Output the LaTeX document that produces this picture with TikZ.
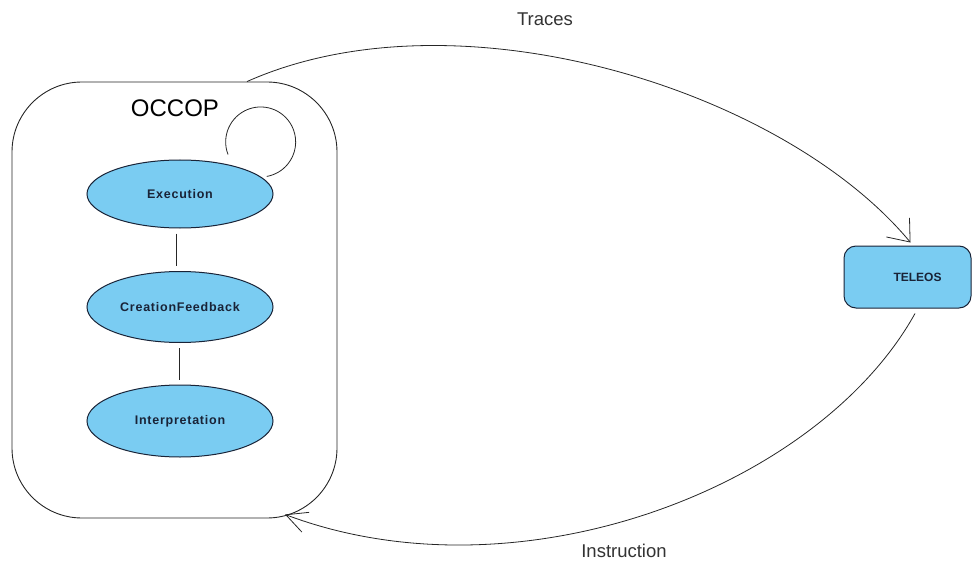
\documentclass[tikz,border=0pt]{standalone}
\usepackage{fontspec}
\setmainfont{Liberation Sans}
\newfontfamily\statefont[LetterSpace=6]{Liberation Sans}
\usetikzlibrary{shapes.geometric,arrows.meta,calc}
\definecolor{fillblue}{RGB}{122,204,242}
\definecolor{edgenavy}{RGB}{25,35,55}
\tikzset{
  statebox/.style={ellipse, draw=edgenavy, line width=1pt, fill=fillblue, inner sep=0pt,
    minimum width=186pt, font=\statefont\fontsize{12.5}{14}\selectfont\bfseries, text=edgenavy},
  groupbox/.style={draw=black!85, line width=0.9pt, rounded corners=70pt, minimum width=325pt, minimum height=436pt},
  actorbox/.style={draw=edgenavy, line width=1pt, fill=fillblue, rounded corners=12pt, minimum width=127pt, minimum height=62pt, inner sep=0pt},
  link/.style={draw=black!85, line width=0.8pt},
  flow/.style={link, -{Straight Barb[length=19pt,width=30pt]}},
  flowb/.style={link, -{Straight Barb[length=21pt,width=21pt]}},
  flowlabel/.style={font=\fontsize{18.5}{20}\selectfont, text=black!80, inner sep=0pt}
}
\begin{document}
\begin{tikzpicture}[x=1pt,y=1pt]
\useasboundingbox (0,0) rectangle (973,563);
% OCCOP container
\node[groupbox] (occop) at (174.5,263) {};
\node[font=\fontsize{24}{26}\selectfont, inner sep=0pt] (title) at (175,455) {OCCOP};
% states
\node[statebox, minimum height=68pt] (ex) at (180,369) {Execution};
\node[statebox, minimum height=71pt] (cf) at (180,256) {CreationFeedback};
\node[statebox, minimum height=72pt] (ip) at (180,142) {Interpretation};
\draw[link] ([xshift=-4pt]ex.south) ++(0,-5) coordinate (l1a) -- ($([xshift=-4pt]cf.north)+(0,5)$) coordinate (l1b);
\draw[link] ([xshift=-1pt]cf.south) ++(0,-5) coordinate (l2a) -- ($([xshift=-1pt]ip.north)+(0,5)$) coordinate (l2b);
% self loop
\draw[link] ([shift={(48pt,5pt)}]ex.north) arc[start angle=201, end angle=-80, radius=35pt];
% TELEOS
\node[actorbox, label={[xshift=10pt, font=\fontsize{12}{14}\selectfont\bfseries, text=edgenavy]center:TELEOS}] (tel) at (907.5,286) {};
% flows
\draw[flow] ([xshift=72.5pt]occop.north) .. controls (457,575) and (783,474) .. ([shift={(3pt,3pt)}]tel.north);
\draw[flowb] ([shift={(7.5pt,-5pt)}]tel.south) .. controls (818,75) and (519,-39.5) .. ([shift={(110.5pt,4pt)}]occop.south);
\node[flowlabel] (traces) at (545,544) {Traces};
\node[flowlabel] (instr) at (624,12) {Instruction};
\end{tikzpicture}
\end{document}
